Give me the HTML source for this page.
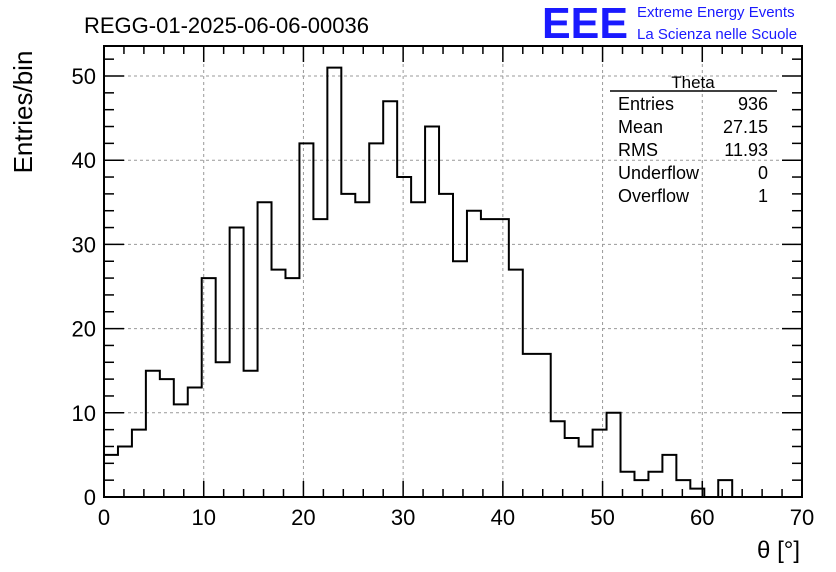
<!DOCTYPE html>
<html><head><meta charset="utf-8"><style>
body{margin:0;background:#fff;}
svg{display:block;font-family:"Liberation Sans",sans-serif;}
</style></head><body>
<svg id="c" width="836" height="572">
<text x="84" y="33" font-size="22">REGG-01-2025-06-06-00036</text>
<text x="542" y="38" font-size="44" fill="#1a1aff" font-weight="bold" textLength="86" lengthAdjust="spacingAndGlyphs">EEE</text>
<text x="637" y="17" font-size="15" fill="#1a1aff">Extreme Energy Events</text>
<text x="637" y="39" font-size="15" fill="#1a1aff">La Scienza nelle Scuole</text>
<text transform="translate(32,112) rotate(-90)" text-anchor="middle" font-size="26">Entries/bin</text>
<text x="800" y="558" text-anchor="end" font-size="24">θ [°]</text>
<g id="grid"></g><g id="axes"></g>
<path id="hist" fill="none" stroke="#000" stroke-width="2"></path>
<g font-size="18">
<text x="693" y="88" text-anchor="middle" font-size="17">Theta</text>
<line x1="610" y1="91" x2="777" y2="91" stroke="#000" stroke-width="1.5"/>
<text x="618" y="110">Entries</text><text x="768" y="110" text-anchor="end">936</text>
<text x="618" y="133">Mean</text><text x="768" y="133" text-anchor="end">27.15</text>
<text x="618" y="156">RMS</text><text x="768" y="156" text-anchor="end">11.93</text>
<text x="618" y="179">Underflow</text><text x="768" y="179" text-anchor="end">0</text>
<text x="618" y="202">Overflow</text><text x="768" y="202" text-anchor="end">1</text>
</g>
</svg>
<script>
const counts=[5,6,8,15,14,11,13,26,16,32,15,35,27,26,42,33,51,36,35,42,47,38,35,44,36,28,34,33,33,27,17,17,9,7,6,8,10,3,2,3,5,2,1,0,2,0,0,0,0,0];
const xTicks=[0,10,20,30,40,50,60,70];
const yTicks=[0,10,20,30,40,50];
const binWidth=1.4;
const X0=104,X1=802,Y0=497;
const xs=v=>X0+(v-0)/70*(X1-X0);
const ys=v=>Y0-(v/50)*(Y0-76);
const ns="http://www.w3.org/2000/svg";
const grid=document.getElementById('grid'),axes=document.getElementById('axes');
function mk(tag,a,p){const e=document.createElementNS(ns,tag);for(const k in a)e.setAttribute(k,a[k]);p.appendChild(e);return e;}
mk('rect',{x:X0,y:46,width:X1-X0,height:Y0-46,fill:'none',stroke:'#000','stroke-width':2},axes);
xTicks.forEach(t=>{const x=xs(t);
 if(t>0&&t<70){const g=mk('line',{x1:x,y1:46,x2:x,y2:Y0,stroke:'#999','stroke-dasharray':'3,3'},grid);}
 mk('line',{x1:x,y1:Y0,x2:x,y2:Y0-16,stroke:'#000','stroke-width':1.5},axes);
 mk('line',{x1:x,y1:46,x2:x,y2:62,stroke:'#000','stroke-width':1.5},axes);
 const tx=mk('text',{x:x,y:Y0+28,'text-anchor':'middle','font-size':22},axes);tx.textContent=t;
 });
for(let v=2;v<70;v+=2){if(v%10==0)continue;const x=xs(v);
 mk('line',{x1:x,y1:Y0,x2:x,y2:Y0-8,stroke:'#000','stroke-width':1.5},axes);
 mk('line',{x1:x,y1:46,x2:x,y2:54,stroke:'#000','stroke-width':1.5},axes);}
yTicks.forEach(t=>{const y=ys(t);
 if(t>0){const g=mk('line',{x1:X0,y1:y,x2:X1,y2:y,stroke:'#999','stroke-dasharray':'3,3'},grid);}
 mk('line',{x1:X0,y1:y,x2:X0+20,y2:y,stroke:'#000','stroke-width':1.5},axes);
 mk('line',{x1:X1,y1:y,x2:X1-20,y2:y,stroke:'#000','stroke-width':1.5},axes);
 const tx=mk('text',{x:X0-8,y:y+8,'text-anchor':'end','font-size':22},axes);tx.textContent=t;
 });
for(let v=2;v<=52;v+=2){if(v%10==0)continue;const y=ys(v);if(y<46)continue;
 mk('line',{x1:X0,y1:y,x2:X0+10,y2:y,stroke:'#000','stroke-width':1.5},axes);
 mk('line',{x1:X1,y1:y,x2:X1-10,y2:y,stroke:'#000','stroke-width':1.5},axes);}
let d='M'+xs(0)+','+ys(counts[0]);
counts.forEach((c,i)=>{const a=xs(i*binWidth),b=xs((i+1)*binWidth);d+=' L'+a+','+ys(c)+' L'+b+','+ys(c);});
document.getElementById('hist').setAttribute('d',d);
</script>
</body></html>
